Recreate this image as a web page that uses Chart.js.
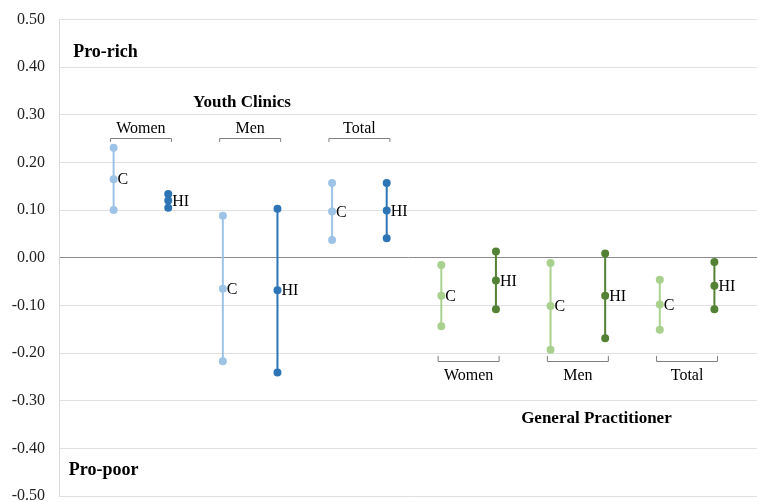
<!DOCTYPE html>
<html>
<head>
<meta charset="utf-8">
<script src="https://cdn.jsdelivr.net/npm/chart.js@4/dist/chart.umd.min.js"></script>
<style>
  html, body { margin: 0; padding: 0; background: #fff; overflow: hidden; }
  #wrap { width: 757px; height: 502px; }
</style>
</head>
<body>
<div id="wrap"><canvas id="c"></canvas></div>
<script>
// Groups within each provider type
const groups = ['Women', 'Men', 'Total'];
const yTicks = [0.5, 0.4, 0.3, 0.2, 0.1, 0, -0.1, -0.2, -0.3, -0.4, -0.5];

// Youth Clinics: concentration index (C) and horizontal inequity index (HI)
const ycCLow  = [0.100, -0.217, 0.037];
const ycCMid  = [0.165, -0.065, 0.097];
const ycCHigh = [0.231,  0.088, 0.157];
const ycHILow  = [0.105, -0.241, 0.041];
const ycHIMid  = [0.120, -0.068, 0.099];
const ycHIHigh = [0.134,  0.103, 0.157];

// General Practitioner
const gpCLow  = [-0.144, -0.193, -0.151];
const gpCMid  = [-0.080, -0.101, -0.098];
const gpCHigh = [-0.015, -0.011, -0.046];
const gpHILow  = [-0.108, -0.169, -0.108];
const gpHIMid  = [-0.048, -0.080, -0.059];
const gpHIHigh = [ 0.013,  0.009, -0.009];

// x slot of each group's C marker; HI sits one slot to the right
const ycSlots = [1, 3, 5];
const gpSlots = [7, 9, 11];

function rangePoints(slots, offset, low, mid, high) {
  const pts = [];
  slots.forEach((s, i) => {
    const x = s + offset;
    pts.push({x, y: low[i]}, {x, y: mid[i]}, {x, y: high[i]}, {x, y: null});
  });
  return pts;
}

function ds(label, color, pts, midLabel, mids, slots, offset) {
  return {
    label, data: pts, borderColor: color, backgroundColor: color,
    pointBackgroundColor: color, pointBorderColor: color,
    pointRadius: 3, pointHoverRadius: 3, borderWidth: 2, spanGaps: false,
    showLine: true, midLabel, mids, slots, offset
  };
}

const datasets = [
  ds('Youth Clinics C', '#9dc3e6', rangePoints(ycSlots, 0, ycCLow, ycCMid, ycCHigh), 'C', ycCMid, ycSlots, 0),
  ds('Youth Clinics HI', '#2e75b6', rangePoints(ycSlots, 1, ycHILow, ycHIMid, ycHIHigh), 'HI', ycHIMid, ycSlots, 1),
  ds('General Practitioner C', '#a9d18e', rangePoints(gpSlots, 0, gpCLow, gpCMid, gpCHigh), 'C', gpCMid, gpSlots, 0),
  ds('General Practitioner HI', '#548235', rangePoints(gpSlots, 1, gpHILow, gpHIMid, gpHIHigh), 'HI', gpHIMid, gpSlots, 1)
];

const SERIF = '"Liberation Serif", "Times New Roman", serif';

// Draws C / HI tags, group brackets and the section titles
const annotations = {
  id: 'annotations',
  afterDatasetsDraw(chart) {
    const {ctx, scales: {x, y}} = chart;
    ctx.save();
    ctx.fillStyle = '#000';
    ctx.textBaseline = 'middle';

    // point tags
    ctx.font = '16px ' + SERIF;
    ctx.textAlign = 'left';
    chart.data.datasets.forEach(d => {
      d.slots.forEach((s, i) => {
        ctx.fillText(d.midLabel, x.getPixelForValue(s + d.offset) + 4, y.getPixelForValue(d.mids[i]) + 1);
      });
    });

    // group brackets with labels
    function bracket(slot, yLine, yTip, yText, text) {
      const c = x.getPixelForValue(slot + 0.5);
      const half = 30.5;
      const yl = Math.round(y.getPixelForValue(yLine)) + 0.5;
      const yt = y.getPixelForValue(yTip);
      ctx.strokeStyle = '#7f7f7f';
      ctx.lineWidth = 1;
      ctx.beginPath();
      ctx.moveTo(c - half, yt);
      ctx.lineTo(c - half, yl);
      ctx.lineTo(c + half, yl);
      ctx.lineTo(c + half, yt);
      ctx.stroke();
      ctx.fillStyle = '#000';
      ctx.textAlign = 'center';
      ctx.font = '16px ' + SERIF;
      ctx.fillText(text, c, y.getPixelForValue(yText));
    }
    ycSlots.forEach((s, i) => bracket(s, 0.251, 0.243, 0.270, groups[i]));
    gpSlots.forEach((s, i) => bracket(s, -0.216, -0.206, -0.247, groups[i]));

    // section titles
    ctx.font = 'bold 17px ' + SERIF;
    ctx.textAlign = 'center';
    ctx.fillText('Youth Clinics', x.getPixelForValue(3.35), y.getPixelForValue(0.326));
    ctx.fillText('General Practitioner', x.getPixelForValue(9.84), y.getPixelForValue(-0.337));
    ctx.font = 'bold 18px ' + SERIF;
    ctx.textAlign = 'left';
    ctx.fillText('Pro-rich', x.getPixelForValue(0.26), y.getPixelForValue(0.432));
    ctx.fillText('Pro-poor', x.getPixelForValue(0.18), y.getPixelForValue(-0.447));
    ctx.restore();
  }
};

new Chart(document.getElementById('c'), {
  type: 'scatter',
  data: { datasets },
  plugins: [annotations],
  options: {
    responsive: true,
    maintainAspectRatio: false,
    animation: false,
    layout: { autoPadding: false, padding: { top: 19.5, bottom: 6, left: 0, right: 0 } },
    plugins: { legend: { display: false }, tooltip: { enabled: false } },
    scales: {
      x: {
        type: 'linear', min: 0, max: 12.78, display: false
      },
      y: {
        type: 'linear', min: -0.5, max: 0.5,
        afterFit(scale) { scale.width = 59; scale.paddingTop = 0; scale.paddingBottom = 0; },
        afterBuildTicks(scale) { scale.ticks = yTicks.map(v => ({value: v})); },
        border: { display: true, color: '#d9d9d9', width: 1 },
        grid: {
          drawTicks: false,
          lineWidth: 1,
          color: ctx => (ctx.tick && ctx.tick.value === 0) ? '#8c8c8c' : '#e0e0e0'
        },
        ticks: {
          padding: 14,
          color: '#222',
          font: { family: SERIF, size: 16 },
          callback: v => v.toFixed(2)
        }
      }
    }
  }
});
</script>
</body>
</html>
